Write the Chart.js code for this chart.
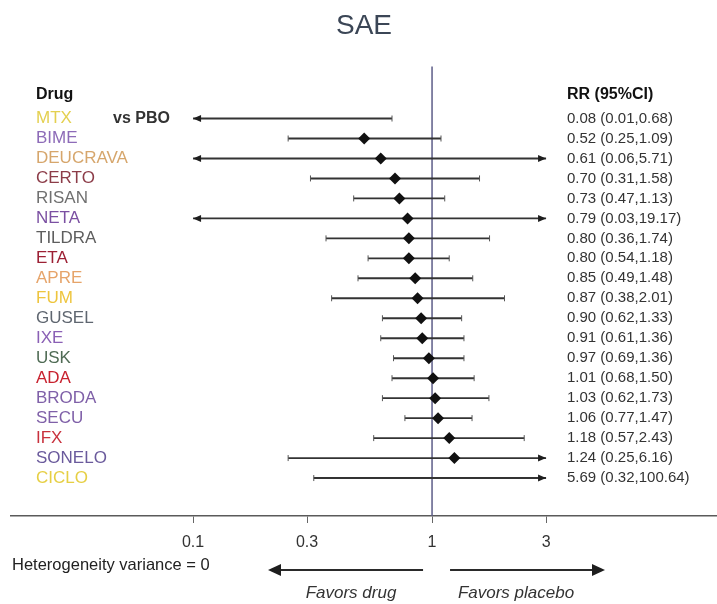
<!DOCTYPE html>
<html>
<head>
<meta charset="utf-8">
<script src="https://cdn.jsdelivr.net/npm/chart.js@4.4.1/dist/chart.umd.min.js"></script>
<style>
  html, body { margin: 0; padding: 0; background: #ffffff; overflow: hidden; }
  #wrap { width: 717px; height: 604px; }
  canvas { display: block; }
</style>
</head>
<body>
<div id="wrap"><canvas id="chart" width="717" height="604"></canvas></div>
<script>
// Network meta-analysis of serious adverse events, each drug vs placebo
const drugs = ['MTX', 'BIME', 'DEUCRAVA', 'CERTO', 'RISAN', 'NETA', 'TILDRA', 'ETA', 'APRE', 'FUM',
               'GUSEL', 'IXE', 'USK', 'ADA', 'BRODA', 'SECU', 'IFX', 'SONELO', 'CICLO'];
const rr     = [0.08, 0.52, 0.61, 0.70, 0.73, 0.79, 0.80, 0.80, 0.85, 0.87,
                0.90, 0.91, 0.97, 1.01, 1.03, 1.06, 1.18, 1.24, 5.69];
const ciLow  = [0.01, 0.25, 0.06, 0.31, 0.47, 0.03, 0.36, 0.54, 0.49, 0.38,
                0.62, 0.61, 0.69, 0.68, 0.62, 0.77, 0.57, 0.25, 0.32];
const ciHigh = [0.68, 1.09, 5.71, 1.58, 1.13, 19.17, 1.74, 1.18, 1.48, 2.01,
                1.33, 1.36, 1.36, 1.50, 1.73, 1.47, 2.43, 6.16, 100.64];
const drugColors = ['#e4d050', '#8d6bb8', '#d6a66c', '#8c3c48', '#707070', '#7b50a2', '#5e5e5e', '#9c2034',
                    '#e6a46a', '#eec53e', '#5f6670', '#8a60b5', '#4f6b54', '#c8222f', '#7f60a8', '#7f60a8',
                    '#c8313d', '#6a5a9c', '#e6cf44'];
const xTickValues = [0.1, 0.3, 1, 3];
const ciWindow = [0.1, 3];      // intervals are clipped to this window, with arrows beyond
const refValue = 1;             // line of no effect

const rrText = drugs.map((d, i) =>
  rr[i].toFixed(2) + ' (' + ciLow[i].toFixed(2) + ',' + ciHigh[i].toFixed(2) + ')');

// point estimates that fall inside the window get a diamond
const estPoints = [];
drugs.forEach((d, i) => {
  if (rr[i] >= ciWindow[0] && rr[i] <= ciWindow[1]) estPoints.push({ x: rr[i], y: i });
});

const FONT = "'Liberation Sans', Arial, sans-serif";

function arrowHead(ctx, tipX, y, dir, len, half) {
  ctx.beginPath();
  ctx.moveTo(tipX, y);
  ctx.lineTo(tipX - dir * len, y - half);
  ctx.lineTo(tipX - dir * len, y + half);
  ctx.closePath();
  ctx.fill();
}

const forestPlugin = {
  id: 'forest',
  beforeDatasetsDraw(chart) {
    const { ctx, chartArea, scales: { x, y } } = chart;
    ctx.save();
    // line of no effect
    const xr = x.getPixelForValue(refValue);
    ctx.strokeStyle = '#5d5d88';
    ctx.lineWidth = 1.5;
    ctx.beginPath();
    ctx.moveTo(xr, chartArea.top);
    ctx.lineTo(xr, chartArea.bottom);
    ctx.stroke();

    // confidence intervals
    drugs.forEach((d, i) => {
      const py = y.getPixelForValue(i);
      const loClip = ciLow[i] < ciWindow[0];
      const hiClip = ciHigh[i] > ciWindow[1];
      const x0 = x.getPixelForValue(Math.max(ciLow[i], ciWindow[0]));
      const x1 = x.getPixelForValue(Math.min(ciHigh[i], ciWindow[1]));
      ctx.strokeStyle = '#333333';
      ctx.fillStyle = '#1e1e1e';
      ctx.lineWidth = 1.9;
      ctx.beginPath();
      ctx.moveTo(x0, py);
      ctx.lineTo(x1, py);
      ctx.stroke();
      ctx.lineWidth = 1;
      ctx.strokeStyle = '#555';
      if (loClip) arrowHead(ctx, x0, py, -1, 8, 3.5);
      else { ctx.beginPath(); ctx.moveTo(x0, py - 3); ctx.lineTo(x0, py + 3); ctx.stroke(); }
      if (hiClip) arrowHead(ctx, x1, py, 1, 8, 3.5);
      else { ctx.beginPath(); ctx.moveTo(x1, py - 3); ctx.lineTo(x1, py + 3); ctx.stroke(); }
    });
    ctx.restore();
  },
  afterDraw(chart) {
    const { ctx, scales: { x, y } } = chart;
    ctx.save();
    ctx.textBaseline = 'middle';
    ctx.textAlign = 'left';
    const labelX = 36;
    const rrX = 567;

    // column headers
    const headY = y.getPixelForValue(-1.2);
    ctx.fillStyle = '#111';
    ctx.font = 'bold 16px ' + FONT;
    ctx.fillText('Drug', labelX, headY);
    ctx.fillText('RR (95%CI)', rrX, headY);

    // drug names and estimates
    drugs.forEach((d, i) => {
      const py = y.getPixelForValue(i);
      ctx.font = '17px ' + FONT;
      ctx.fillStyle = drugColors[i];
      ctx.fillText(d, labelX, py);
      ctx.font = '15px ' + FONT;
      ctx.fillStyle = '#333';
      ctx.fillText(rrText[i], rrX, py);
    });
    ctx.font = 'bold 16px ' + FONT;
    ctx.fillStyle = '#333';
    ctx.fillText('vs PBO', 113, y.getPixelForValue(0));

    // heterogeneity note
    ctx.font = '16.5px ' + FONT;
    ctx.fillStyle = '#222';
    ctx.fillText('Heterogeneity variance = 0', 12, 565);

    // direction arrows
    const xr = x.getPixelForValue(refValue);
    const ay = 570;
    ctx.strokeStyle = '#2a2a2a';
    ctx.fillStyle = '#1e1e1e';
    ctx.lineWidth = 2;
    ctx.beginPath();
    ctx.moveTo(xr - 9, ay); ctx.lineTo(268 + 10, ay);
    ctx.moveTo(xr + 18, ay); ctx.lineTo(605 - 10, ay);
    ctx.stroke();
    arrowHead(ctx, 268, ay, -1, 13, 6);
    arrowHead(ctx, 605, ay, 1, 13, 6);

    ctx.font = 'italic 17px ' + FONT;
    ctx.fillStyle = '#333';
    ctx.textAlign = 'center';
    ctx.fillText('Favors drug', 351, 593);
    ctx.fillText('Favors placebo', 516, 593);
    ctx.restore();
  }
};

new Chart(document.getElementById('chart'), {
  type: 'scatter',
  data: {
    datasets: [{
      data: estPoints,
      pointStyle: 'rectRot',
      pointRadius: 6,
      pointBackgroundColor: '#111',
      pointBorderColor: '#111',
      pointBorderWidth: 0,
      showLine: false
    }]
  },
  options: {
    responsive: false,
    devicePixelRatio: 1,
    animation: false,
    layout: { autoPadding: false, padding: { left: 11, right: 0, top: 0, bottom: 0 } },
    plugins: {
      legend: { display: false },
      tooltip: { enabled: false },
      title: {
        display: true,
        text: 'SAE',
        color: '#3b4656',
        font: { size: 28, family: FONT, weight: 'normal' },
        padding: { top: 9, bottom: 24 }
      }
    },
    scales: {
      x: {
        type: 'logarithmic',
        min: 0.01731,
        max: 15.57,
        afterBuildTicks(scale) {
          scale.ticks = xTickValues.map(v => ({ value: v }));
        },
        afterFit(scale) {
          scale.height = 88;
          scale.paddingLeft = 0;
          scale.paddingRight = 0;
        },
        ticks: {
          autoSkip: false,
          maxRotation: 0,
          padding: 10,
          color: '#333',
          font: { size: 16, family: FONT },
          callback: (v) => String(v)
        },
        grid: { display: true, drawOnChartArea: false, drawTicks: true, tickLength: 7, color: '#666', lineWidth: 1 },
        border: { display: true, color: '#5a5a5a', width: 1.5 }
      },
      y: {
        type: 'linear',
        reverse: true,
        min: -2.6,
        max: 19.9,
        display: false
      }
    }
  },
  plugins: [forestPlugin]
});
</script>
</body>
</html>
